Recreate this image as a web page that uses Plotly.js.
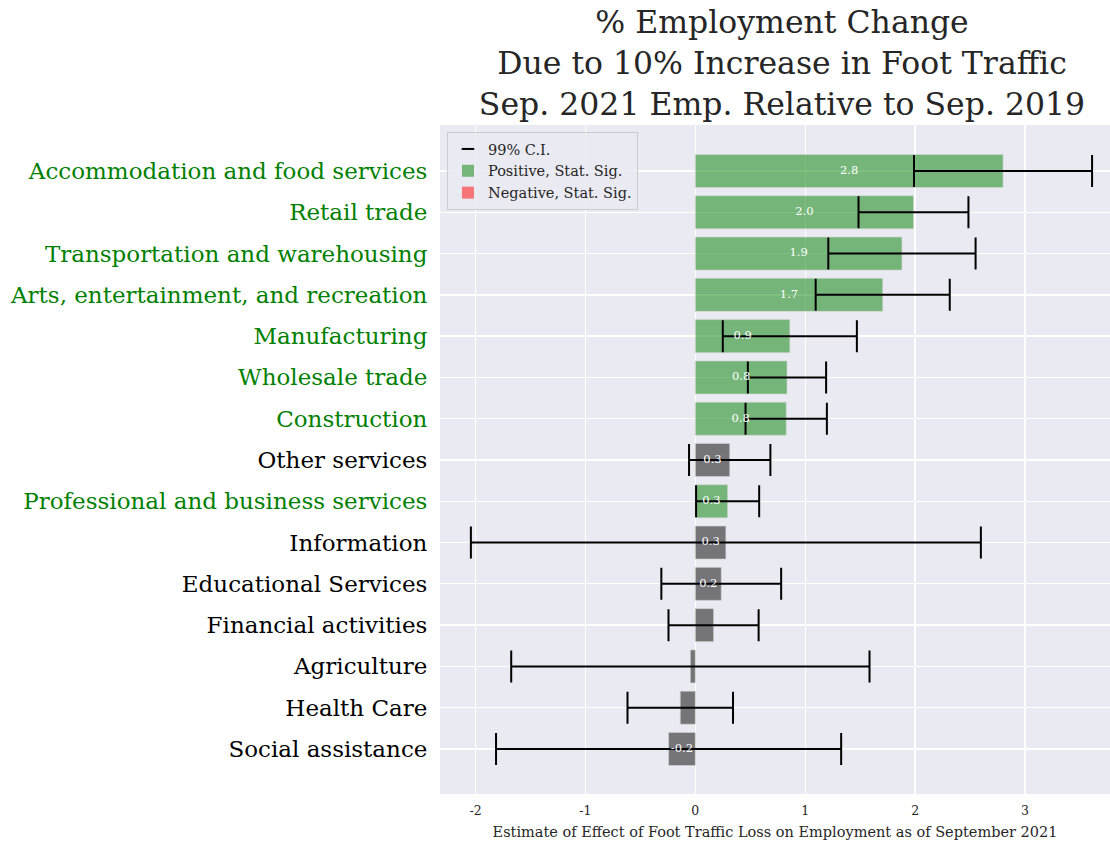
<!DOCTYPE html>
<html>
<head>
<meta charset="utf-8">
<script src="https://cdn.plot.ly/plotly-3.0.1.min.js"></script>
<style>html,body{margin:0;padding:0;overflow:hidden;background:#fff;}#chart{width:1110px;height:846px;}</style>
</head>
<body>
<div id="chart"></div>
<script>
// ---- data (top to bottom) ----
var categories = [
  "Accommodation and food services",
  "Retail trade",
  "Transportation and warehousing",
  "Arts, entertainment, and recreation",
  "Manufacturing",
  "Wholesale trade",
  "Construction",
  "Other services",
  "Professional and business services",
  "Information",
  "Educational Services",
  "Financial activities",
  "Agriculture",
  "Health Care",
  "Social assistance"
];
var estimates = [2.80, 1.985, 1.88, 1.705, 0.86, 0.834, 0.827, 0.313, 0.294, 0.278, 0.236, 0.166, -0.045, -0.137, -0.243];
var ciHalfWidth = [0.81, 0.50, 0.67, 0.61, 0.61, 0.356, 0.37, 0.37, 0.287, 2.32, 0.545, 0.41, 1.63, 0.48, 1.57];
var barLabels = ["2.8", "2.0", "1.9", "1.7", "0.9", "0.8", "0.8", "0.3", "0.3", "0.3", "0.2", "", "", "", "-0.2"];
var xTickVals = [-2, -1, 0, 1, 2, 3];
var xTickText = ["-2", "-1", "0", "1", "2", "3"];

// ---- styles ----
var FONT = "DejaVu Serif, Liberation Serif, serif";
var POS = "rgba(0,128,0,0.5)";
var NEG = "rgba(255,0,0,0.5)";
var NS = "rgba(0,0,0,0.5)";

var idx = categories.map(function (_, i) { return i; });
var barColors = estimates.map(function (v, i) {
  if (v - ciHalfWidth[i] > 0) return POS;
  if (v + ciHalfWidth[i] < 0) return NEG;
  return NS;
});
var tickText = categories.map(function (c, i) {
  var sig = (estimates[i] - ciHalfWidth[i] > 0) || (estimates[i] + ciHalfWidth[i] < 0);
  return '<span style="color:' + (sig ? '#008000' : '#000000') + '">' + c + '</span>';
});
var labelX = estimates.map(function (v) { return v / 2; });

var traces = [
  {
    type: "bar", orientation: "h", x: estimates, y: idx, width: 0.8,
    marker: { color: barColors, line: { color: "rgba(210,215,210,0.6)", width: 1 } },
    showlegend: false, hoverinfo: "x+y"
  },
  {
    type: "scatter", mode: "markers", x: estimates, y: idx,
    marker: { size: 1, opacity: 0 },
    error_x: { type: "data", array: ciHalfWidth, visible: true, color: "#000000", thickness: 2, width: 16 },
    showlegend: false, hoverinfo: "skip"
  },
  {
    type: "scatter", mode: "text", x: labelX, y: idx, text: barLabels,
    textposition: "middle center",
    textfont: { family: FONT, size: 11.5, color: "#ffffff" },
    showlegend: false, hoverinfo: "skip"
  },
  {
    type: "scatter", mode: "markers", x: [null], y: [null], name: "99% C.I.",
    marker: { symbol: "line-ew", size: 9, line: { width: 2, color: "#000000" }, color: "#000000" }
  },
  {
    type: "bar", orientation: "h", x: [null], y: [null], name: "Positive, Stat. Sig.",
    marker: { color: POS }
  },
  {
    type: "bar", orientation: "h", x: [null], y: [null], name: "Negative, Stat. Sig.",
    marker: { color: NEG }
  }
];

var layout = {
  width: 1110, height: 846,
  margin: { l: 440, r: 0, t: 125, b: 52 },
  paper_bgcolor: "#ffffff",
  plot_bgcolor: "#EAEAF2",
  barmode: "overlay",
  font: { family: FONT, color: "#262626" },
  title: {
    text: "% Employment Change<br>Due to 10% Increase in Foot Traffic<br>Sep. 2021 Emp. Relative to Sep. 2019",
    font: { family: FONT, size: 31.5, color: "#262626" },
    xref: "container", yref: "container",
    x: 0.7045, xanchor: "center", y: 0.961, yanchor: "middle"
  },
  xaxis: {
    range: [-2.323, 3.773],
    tickvals: xTickVals, ticktext: xTickText,
    tickfont: { family: FONT, size: 12.5, color: "#262626" },
    showgrid: true, gridcolor: "#ffffff", gridwidth: 1.3,
    zeroline: false, showline: false,
    ticks: "outside", ticklen: 5, tickcolor: "rgba(0,0,0,0)",
    title: {
      text: "Estimate of Effect of Foot Traffic Loss on Employment as of September 2021",
      font: { family: FONT, size: 14.5, color: "#262626" },
      standoff: 9
    }
  },
  yaxis: {
    range: [15.09, -1.114],
    tickvals: idx, ticktext: tickText,
    tickfont: { family: FONT, size: 23, color: "#000000" },
    showgrid: true, gridcolor: "#ffffff", gridwidth: 1.3,
    zeroline: false, showline: false,
    ticks: "outside", ticklen: 7, tickcolor: "rgba(0,0,0,0)"
  },
  legend: {
    x: 0.0104, y: 0.9895, xanchor: "left", yanchor: "top",
    bgcolor: "rgba(234,234,242,0.85)", bordercolor: "#cccccc", borderwidth: 1,
    font: { family: FONT, size: 14.5, color: "#262626" },
    tracegroupgap: 0
  },
  showlegend: true
};

Plotly.newPlot("chart", traces, layout, { displayModeBar: false, staticPlot: true });
</script>
</body>
</html>
